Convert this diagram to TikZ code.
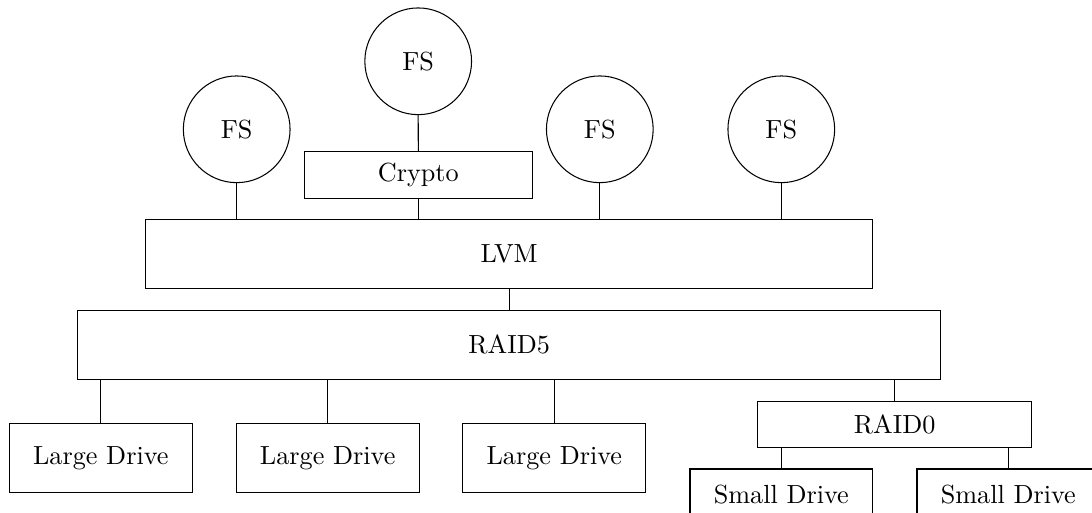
\documentclass[tikz,border=0pt]{standalone}
\begin{document}
\def\pxu{0.3817pt}
\begin{tikzpicture}[x=\pxu,y=-\pxu,
  box/.style={draw,rectangle,inner sep=0pt},
  fs/.style={draw,circle,inner sep=0pt,minimum size=106.7*\pxu},
  drive/.style={box,minimum width=183*\pxu,minimum height=69.3*\pxu},
  smalldrive/.style={box,minimum width=182.6*\pxu,minimum height=52*\pxu}]
\useasboundingbox (0,0) rectangle (1092,513);
\clip (0,0) rectangle (1092,513);
\node[fs] (fs1) at (236.7,129.3) {FS};
\node[fs] (fs2) at (418.2,61.3) {FS};
\node[fs] (fs3) at (599.8,129.3) {FS};
\node[fs] (fs4) at (781.3,129.3) {FS};
\node[box,minimum width=228*\pxu,minimum height=46.7*\pxu] (crypto) at (418.3,175) {Crypto};
\node[box,minimum width=727*\pxu,minimum height=69*\pxu] (lvm) at (509.2,254.2) {LVM};
\node[box,minimum width=863*\pxu,minimum height=69*\pxu] (raid5) at (509.2,344.8) {RAID5};
\node[drive] (ld1) at (100.8,458) {Large Drive};
\node[drive] (ld2) at (327.7,458) {Large Drive};
\node[drive] (ld3) at (554.3,458) {Large Drive};
\node[box,minimum width=274*\pxu,minimum height=45.7*\pxu] (raid0) at (894.7,424.5) {RAID0};
\node[smalldrive] (sd1) at (781.3,495) {Small Drive};
\node[smalldrive] (sd2) at (1008.3,495) {Small Drive};
\draw (fs1.south) -- (fs1.south |- lvm.north);
\draw (fs2.south) -- (crypto.north);
\draw (crypto.south) -- (crypto.south |- lvm.north);
\draw (fs3.south) -- (fs3.south |- lvm.north);
\draw (fs4.south) -- (fs4.south |- lvm.north);
\draw (lvm.south) -- (lvm.south |- raid5.north);
\draw (ld1.north |- raid5.south) -- (ld1.north);
\draw (ld2.north |- raid5.south) -- (ld2.north);
\draw (ld3.north |- raid5.south) -- (ld3.north);
\draw (raid0.north |- raid5.south) -- (raid0.north);
\draw (sd1.north |- raid0.south) -- (sd1.north);
\draw (sd2.north |- raid0.south) -- (sd2.north);
\end{tikzpicture}
\end{document}
